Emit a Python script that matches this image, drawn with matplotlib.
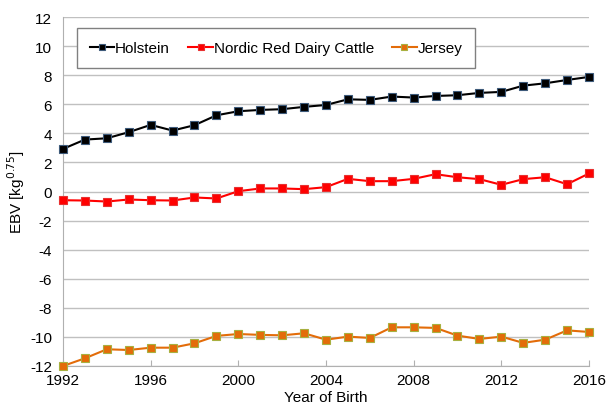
import matplotlib
matplotlib.use("Agg")
import matplotlib.pyplot as plt

plt.rcParams['font.family'] = ['Liberation Sans', 'DejaVu Sans']
plt.rcParams['axes.unicode_minus'] = False

years = list(range(1992, 2017))
holstein = [2.93, 3.57, 3.66, 4.08, 4.58, 4.19, 4.56, 5.24, 5.52, 5.61, 5.66, 5.82, 5.95,
            6.34, 6.30, 6.53, 6.46, 6.57, 6.62, 6.78, 6.85, 7.28, 7.44, 7.67, 7.88]
nordic_red = [-0.60, -0.62, -0.69, -0.55, -0.60, -0.62, -0.41, -0.48, 0.02, 0.21, 0.21, 0.16, 0.30,
              0.87, 0.71, 0.71, 0.87, 1.19, 0.98, 0.85, 0.46, 0.85, 0.98, 0.50, 1.24]
jersey = [-12.0, -11.47, -10.85, -10.90, -10.74, -10.74, -10.44, -9.93, -9.80, -9.86, -9.89, -9.75, -10.19,
          -9.98, -10.07, -9.34, -9.34, -9.38, -9.91, -10.14, -9.98, -10.41, -10.19, -9.55, -9.66]
x_ticks = [1992, 1996, 2000, 2004, 2008, 2012, 2016]
y_ticks = list(range(-12, 13, 2))

fig = plt.figure(figsize=(6.09, 4.10), dpi=100)
ax = fig.add_axes([63 / 609, 43 / 410, 526 / 609, 349 / 410])

ax.plot(years, holstein, color='black', lw=1.5, marker='s', ms=5.5,
        mfc='black', mec='#3d5a7a', mew=0.8, label='Holstein', clip_on=False, zorder=3)
ax.plot(years, nordic_red, color='#ff0000', lw=1.5, marker='s', ms=5.5,
        mfc='#ff0000', mec='#e83030', mew=0.8, label='Nordic Red Dairy Cattle', clip_on=False, zorder=3)
ax.plot(years, jersey, color='#e36c09', lw=1.5, marker='s', ms=5.5,
        mfc='#e36c09', mec='#a8b040', mew=0.8, label='Jersey', clip_on=False, zorder=3)

ax.set_xlim(1992, 2016)
ax.set_ylim(-12, 12)
ax.set_xticks(x_ticks)
ax.set_yticks(y_ticks)
ax.yaxis.grid(True, color='#c0c0c0', lw=1)
ax.set_axisbelow(True)
for s in ['top', 'right']:
    ax.spines[s].set_visible(False)
for s in ['left', 'bottom']:
    ax.spines[s].set_color('#b0b0b0')
ax.tick_params(axis='y', length=0, labelsize=11, pad=8)
ax.tick_params(axis='x', length=4, color='#b0b0b0', labelsize=11, direction='in', pad=5)

ax.set_xlabel('Year of Birth', fontsize=11, labelpad=2)
ax.set_ylabel('EBV [kg$^{0.75}$]', fontsize=11, labelpad=2)

leg = ax.legend(loc='upper left', bbox_to_anchor=(0.0266, 0.968), ncol=3, fontsize=11,
                frameon=True, fancybox=False, edgecolor='#808080', framealpha=1,
                handlelength=1.6, columnspacing=1.2, borderpad=0.85, handletextpad=0.05,
                borderaxespad=0, markerscale=0.8)
leg.get_frame().set_linewidth(1)

fig.savefig('out.png', dpi=100)
